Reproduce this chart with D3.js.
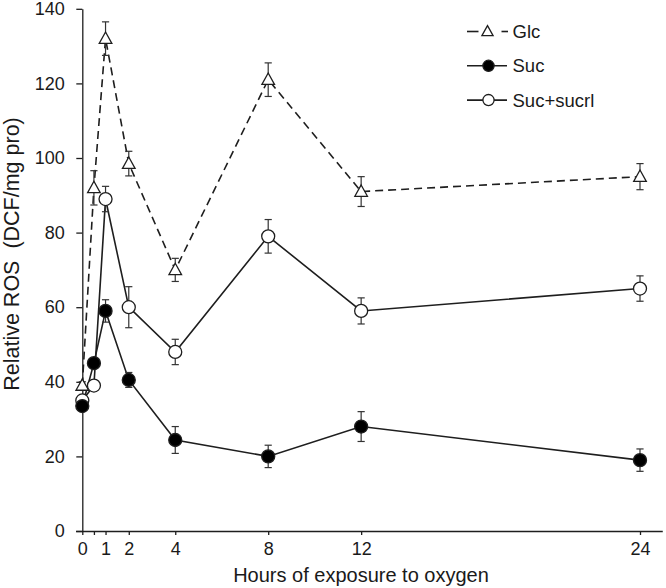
<!DOCTYPE html>
<html><head><meta charset="utf-8">
<script src="https://cdn.jsdelivr.net/npm/d3@7"></script>
<style>body{margin:0;background:#fff}svg{display:block}text{font-family:"Liberation Sans",Arial,sans-serif;fill:#1a1a1a}</style>
</head><body><svg id="c" width="666" height="588"></svg>
<script>
const hours = [0, 0.5, 1, 2, 4, 8, 12, 24];
const xTickValues = [0, 0.5, 1, 2, 4, 8, 12, 24];
const xTickLabels = ["0", "", "1", "2", "4", "8", "12", "24"];
const yTickValues = [0, 20, 40, 60, 80, 100, 120, 140];
const glc = [39, 92, 132, 98.5, 70, 121, 91, 95];
const glcErr = [1, 4.6, 4.5, 3.3, 3.1, 4.5, 4, 3.5];
const suc = [33.5, 45, 59, 40.5, 24.4, 20, 28, 19];
const sucErr = [1, 1, 3, 2, 3.6, 3, 4, 3];
const sucS = [35, 39, 89, 60, 48, 79, 59, 65];
const sucSErr = [1, 1, 3.4, 5.5, 3.4, 4.5, 3.5, 3.4];
const seriesNames = ["Glc", "Suc", "Suc+sucrl"];

const svg = d3.select("#c");
const x = d3.scaleLinear().domain([0, 24]).range([82.3, 640]);
const y = d3.scaleLinear().domain([0, 140]).range([531, 8.8]);
const ink = "#1e1e1e";

// axes
const xAxis = d3.axisBottom(x).tickValues(xTickValues).tickSize(4).tickSizeOuter(0)
  .tickFormat((d,i)=>xTickLabels[i]);
const gx = svg.append("g").attr("transform","translate(0,531)").call(xAxis);
gx.select(".domain").attr("d", `M${x(-0.27)},0.5H${x(24.98)}`);
const yAxis = d3.axisLeft(y).tickValues(yTickValues).tickSize(6).tickSizeOuter(0);
const gy = svg.append("g").attr("transform","translate(82.3,0)").call(yAxis);
[gx, gy].forEach(g=>{
  g.selectAll(".domain").attr("stroke", ink).attr("stroke-width",1.3);
  g.selectAll(".tick line").attr("stroke", ink).attr("stroke-width",1.3);
  g.selectAll(".tick text").attr("font-size",18).attr("fill",ink)
   .style("font-family",'"Liberation Sans",Arial,sans-serif');
});
gx.selectAll(".tick text").attr("y",11);
gy.selectAll(".tick text").attr("x",-17.5);

svg.append("text").attr("x",361).attr("y",581.5).attr("text-anchor","middle")
  .attr("font-size",20).text("Hours of exposure to oxygen");
svg.append("text").attr("transform","translate(18.5,254) rotate(-90)")
  .attr("text-anchor","middle").attr("font-size",21.5).style("white-space","pre")
  .text("Relative ROS  (DCF/mg pro)");

function mk(vals){ return hours.map((h,i)=>({h, v:vals[i]})); }
const series = [
  {name: seriesNames[0], vals: glc, err: glcErr, dash: "8,5", marker: "tri"},
  {name: seriesNames[2], vals: sucS, err: sucSErr, dash: null, marker: "open"},
  {name: seriesNames[1], vals: suc, err: sucErr, dash: null, marker: "fill"}
];
const line = d3.line().x(d=>x(d.h)).y(d=>y(d.v));

// lines
series.forEach(s=>{
  svg.append("path").datum(mk(s.vals)).attr("d", line).attr("fill","none")
    .attr("stroke", ink).attr("stroke-width",1.6)
    .attr("stroke-dasharray", s.dash);
});
// error bars
series.forEach(s=>{
  const g = svg.append("g").attr("stroke", "#333").attr("stroke-width",1.2);
  hours.forEach((h,i)=>{
    const cx = x(h), t = y(s.vals[i]+s.err[i]), b = y(s.vals[i]-s.err[i]);
    g.append("line").attr("x1",cx).attr("x2",cx).attr("y1",t).attr("y2",b);
    g.append("line").attr("x1",cx-3.6).attr("x2",cx+3.6).attr("y1",t).attr("y2",t);
    g.append("line").attr("x1",cx-3.6).attr("x2",cx+3.6).attr("y1",b).attr("y2",b);
  });
});
function drawMarker(g, type, cx, cy, size){
  if(type==="tri"){
    const r = size;
    g.append("path").attr("d", `M${cx},${cy-r*1.05}L${cx+r},${cy+r*0.75}L${cx-r},${cy+r*0.75}Z`)
      .attr("fill","#fff").attr("stroke",ink).attr("stroke-width",1.3);
  } else {
    g.append("circle").attr("cx",cx).attr("cy",cy).attr("r",size)
      .attr("fill", type==="fill" ? "#000" : "#fff").attr("stroke",ink).attr("stroke-width",1.3);
  }
}
// markers
series.forEach(s=>{
  const g = svg.append("g");
  hours.forEach((h,i)=>drawMarker(g, s.marker, x(h), y(s.vals[i]), s.marker==="tri"?6.3:6.5));
});

// legend
const legendOrder = [series[0], series[2], series[1]];
legendOrder.forEach((s,i)=>{
  const ly = 31.5 + i*34.3;
  const g = svg.append("g");
  if(s.dash){
    g.append("line").attr("x1",467).attr("x2",478.5).attr("y1",ly).attr("y2",ly).attr("stroke",ink).attr("stroke-width",1.6);
    g.append("line").attr("x1",501.5).attr("x2",508).attr("y1",ly).attr("y2",ly).attr("stroke",ink).attr("stroke-width",1.6);
    drawMarker(g, "tri", 487.5, ly, 5.6);
  } else {
    g.append("line").attr("x1",467).attr("x2",507).attr("y1",ly).attr("y2",ly).attr("stroke",ink).attr("stroke-width",1.6);
    drawMarker(g, s.marker, 488.5, ly, 5.6);
  }
  g.append("text").attr("x",512.5).attr("y",ly).attr("dy","0.36em").attr("font-size",18.5).text(s.name);
});
</script></body></html>
